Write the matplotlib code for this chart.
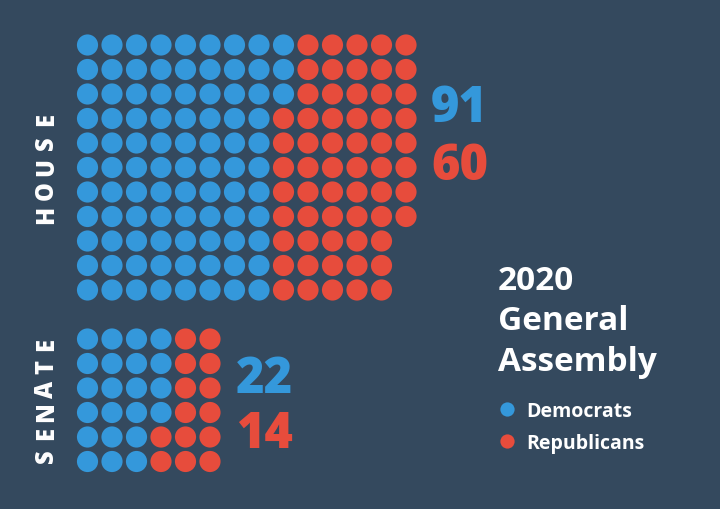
import matplotlib.pyplot as plt

# seat counts
house_dem = 91
house_rep = 60
house_rows = 11
senate_dem = 22
senate_rep = 14
senate_rows = 6

title_lines = ['2020', 'General', 'Assembly']
legend_labels = ['Democrats', 'Republicans']

bg = '#34495e'
blue = '#3498db'
red = '#e74c3c'
plt.rcParams['font.family'] = ['Open Sans', 'DejaVu Sans']


def waffle(ax, dem, rep, nrows, x0, y0, step=24.5):
    # fill column by column, top to bottom
    colors = [blue] * dem + [red] * rep
    xs = [x0 + (i // nrows) * step for i in range(len(colors))]
    ys = [y0 + (i % nrows) * step for i in range(len(colors))]
    ax.scatter(xs, ys, s=232, c=colors, linewidths=0)


def spaced_label(ax, word, x, y_bottom, gap):
    # vertical label, letters spread out, read bottom to top
    for i, ch in enumerate(word):
        ax.text(x, y_bottom - i * gap, ch, rotation=90, rotation_mode='anchor',
                color='white', fontsize=17, fontweight=800,
                ha='center', va='baseline')


fig = plt.figure(figsize=(7.2, 5.1), dpi=100, facecolor=bg)
ax = fig.add_axes([0, 0, 1, 1])
ax.set_facecolor(bg)
ax.set_xlim(0, 720)
ax.set_ylim(510, 0)
ax.axis('off')

waffle(ax, house_dem, house_rep, house_rows, 87.5, 46)
waffle(ax, senate_dem, senate_rep, senate_rows, 87.5, 340)

spaced_label(ax, 'HOUSE', 53, 215, 24)
spaced_label(ax, 'SENATE', 53, 456, 22.2)

ax.text(431, 122, str(house_dem), color=blue, fontsize=35, fontweight=800, va='baseline')
ax.text(431, 180, str(house_rep), color=red, fontsize=35, fontweight=800, va='baseline')
ax.text(236, 393, str(senate_dem), color=blue, fontsize=35, fontweight=800, va='baseline')
ax.text(236, 448, str(senate_rep), color=red, fontsize=35, fontweight=800, va='baseline')

for i, line in enumerate(title_lines):
    ax.text(498, 290 + i * 40.5, line, color='white', fontsize=24,
            fontweight='bold', va='baseline')

for i, (lab, col) in enumerate(zip(legend_labels, [blue, red])):
    ax.scatter([507], [410 + i * 32], s=105, c=col, linewidths=0)
    ax.text(526, 417 + i * 32, lab, color='white', fontsize=14,
            fontweight='bold', va='baseline')

fig.savefig('out.png', dpi=100, facecolor=bg)
